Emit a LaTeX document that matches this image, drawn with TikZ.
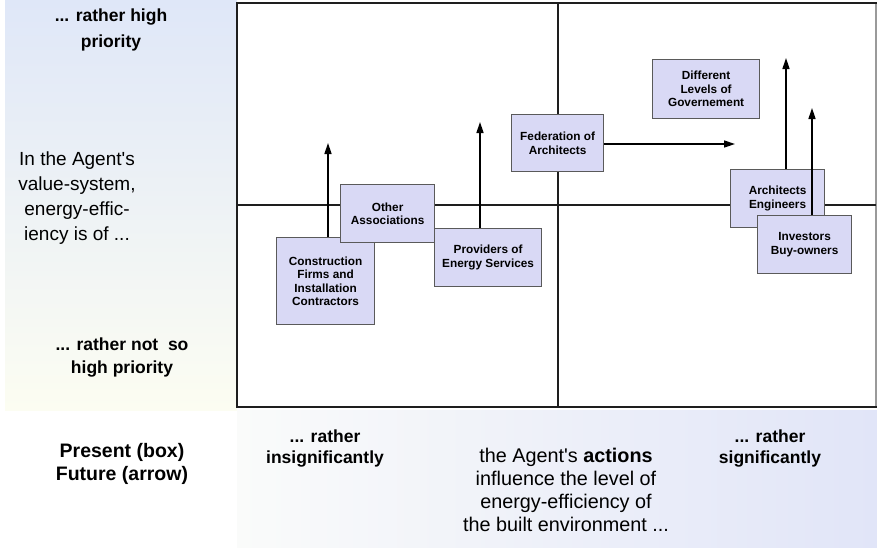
\documentclass[tikz,border=0pt]{standalone}
\usepackage{fontspec}
\setmainfont{Liberation Sans}[Ligatures=TeXOff]
\usetikzlibrary{arrows.meta}
\definecolor{boxfill}{HTML}{D9D9F5}
\definecolor{boxline}{HTML}{5A5A5A}
\definecolor{framecol}{HTML}{1E1E1E}
\definecolor{rightcol}{HTML}{9A9A9A}
\definecolor{panelblue}{HTML}{DFE7F8}
\definecolor{panelpale}{HTML}{FCFDF2}
\definecolor{bottomblue}{HTML}{E1E5F8}
\definecolor{bottomwhite}{HTML}{FAFBFA}
\begin{document}
\begin{tikzpicture}[x=1pt,y=-1pt,
  agent/.style={draw=boxline, fill=boxfill, line width=1.2pt,
    font=\fontsize{11.8}{13.5}\selectfont\bfseries, align=center,
    inner sep=0pt, anchor=north west},
  future/.style={-{Triangle[width=7pt,length=11pt]}, line width=1.5pt, draw=black},
  axislabel/.style={font=\fontsize{17.5}{21}\selectfont\bfseries, align=center, inner sep=0pt},
  plainlabel/.style={font=\fontsize{19.8}{23}\selectfont, align=center, inner sep=0pt},
  frameline/.style={line width=2pt, draw=framecol}
]
\useasboundingbox (0,0) rectangle (877,547);
% background panels
\fill[top color=panelblue, bottom color=panelpale] (5,0) rectangle (237,410);
\fill[left color=bottomwhite, right color=bottomblue] (237,410) rectangle (877,547);
\fill[white] (237,3) rectangle (876,407);
% frame and dividers
\coordinate (tl) at (237,3);
\coordinate (tr) at (876,3);
\coordinate (bl) at (237,407);
\coordinate (br) at (876,407);
\coordinate (vt) at (558,3);
\coordinate (vb) at (558,407);
\coordinate (hl) at (237,205);
\coordinate (hr) at (876,205);
\draw[line width=1.5pt, draw=rightcol] (tr) -- (br);
\draw[frameline, line cap=rect] (tr) -- (tl) -- (bl) -- (br);
\draw[frameline] (vt) -- (vb);
\draw[frameline] (hl) -- (hr);
% axis texts
\node[axislabel, font=\fontsize{17.5}{26}\selectfont\bfseries] (hi) at (111,30) {... rather high\\priority};
\node[plainlabel, font=\fontsize{19}{25}\selectfont] (vs) at (77,198) {In the Agent's\\value-system,\\energy-effic-\\iency is of ...};
\node[axislabel, font=\fontsize{17.5}{23}\selectfont\bfseries] (lo) at (122,358) {... rather not\ \ so\\high priority};
\node[axislabel, font=\fontsize{19.5}{23.5}\selectfont\bfseries] (pf) at (122,464) {Present (box)\\Future (arrow)};
\node[axislabel] (ins) at (325,449) {... rather\\insignificantly};
\node[axislabel] (sig) at (770,449) {... rather\\significantly};
\node[plainlabel] (act) at (566,490) {the Agent's \textbf{actions}\\influence the level of\\energy-efficiency of\\the built environment ...};
% arrow tips
\coordinate (t1) at (328,143);
\coordinate (t2) at (480,122);
\coordinate (t3) at (735,144);
\coordinate (t4) at (786,58);
\coordinate (t5) at (812,108);
% agents
\node[agent, minimum width=98pt, minimum height=87pt] (cf) at (276,237) {Construction\\Firms and\\Installation\\Contractors};
\draw[future] (cf.north -| t1) -- (t1);
\node[agent, minimum width=94pt, minimum height=58pt] (oa) at (340,184) {Other\\Associations};
\node[agent, minimum width=107pt, minimum height=58pt] (pe) at (434,228) {Providers of\\Energy Services};
\draw[future] (pe.north -| t2) -- (t2);
\node[agent, minimum width=92pt, minimum height=57pt] (fa) at (511,114) {Federation of\\Architects};
\draw[future] (fa.east |- t3) -- (t3);
\node[agent, minimum width=107pt, minimum height=59pt] (dl) at (652,59) {Different\\Levels of\\Governement};
\node[agent, minimum width=94pt, minimum height=58pt] (ae) at (730,169) {Architects\\Engineers};
\draw[future] (ae.north -| t4) -- (t4);
\node[agent, minimum width=94pt, minimum height=58pt] (ib) at (757,215) {Investors\\Buy-owners};
\draw[future] (ib.north -| t5) -- (t5);
\end{tikzpicture}
\end{document}
